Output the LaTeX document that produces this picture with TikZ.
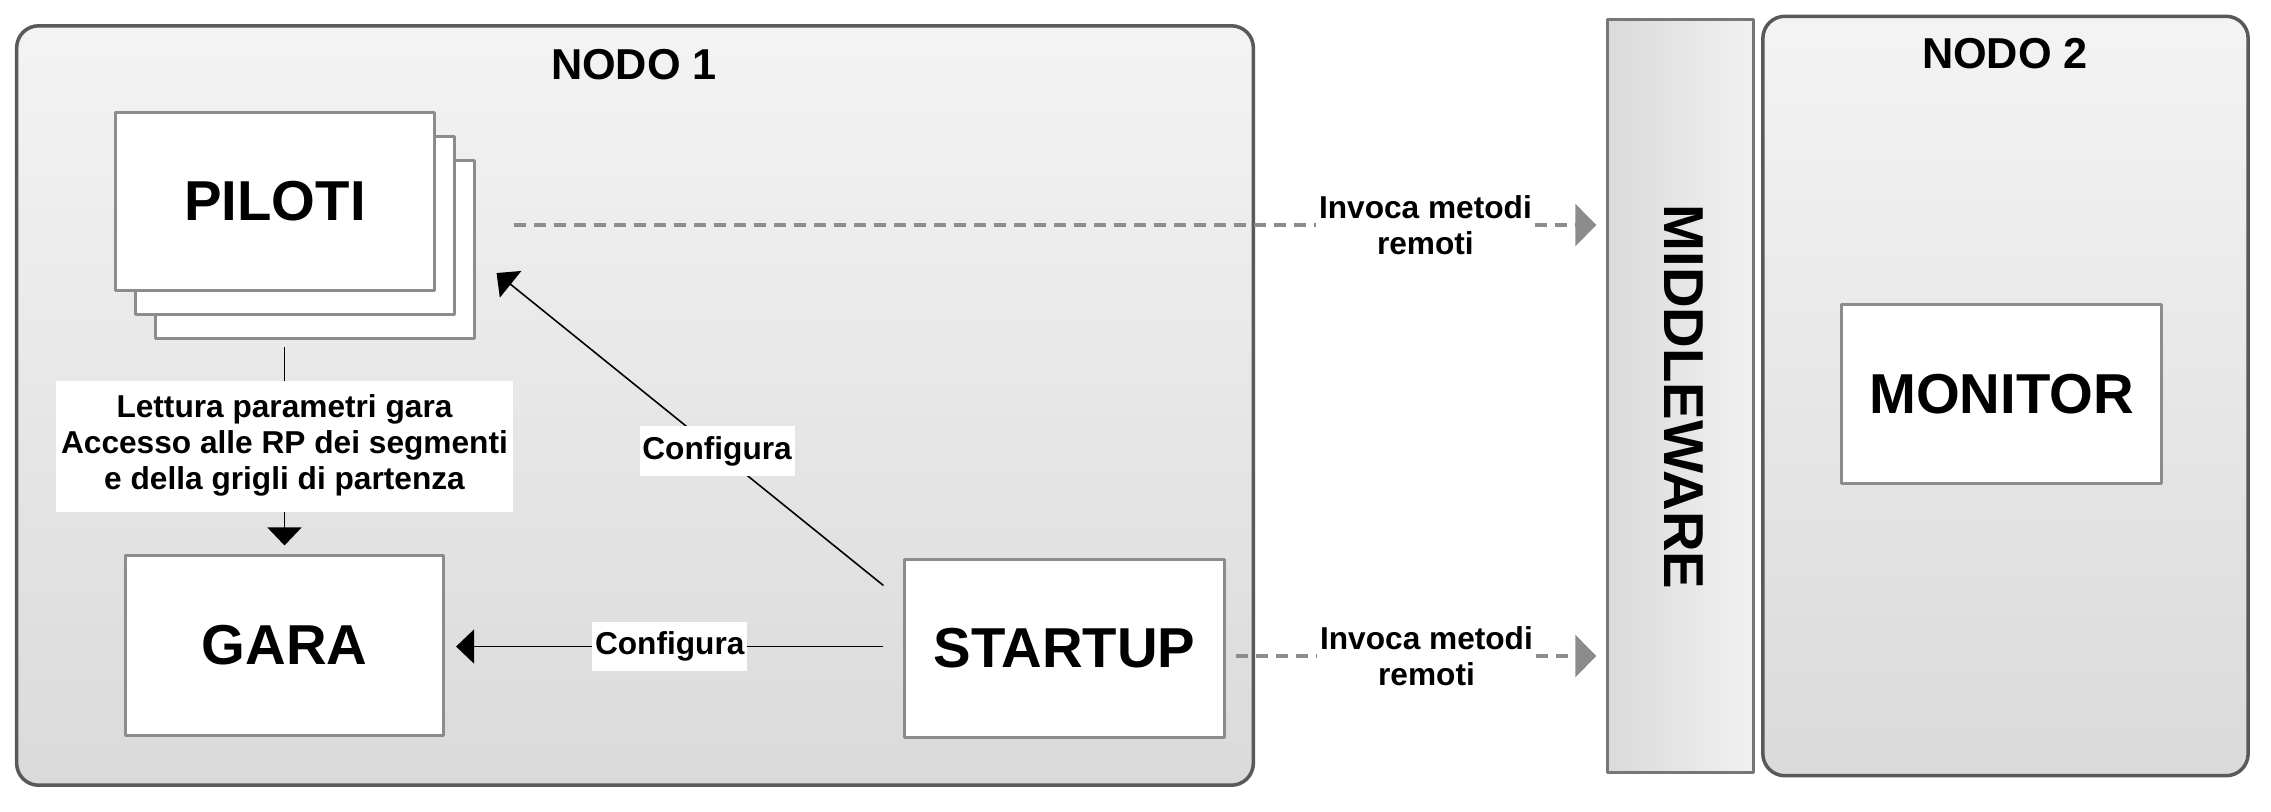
\documentclass[tikz,border=0pt]{standalone}
\usepackage{fontspec}
\setmainfont{Liberation Sans}
\usetikzlibrary{arrows.meta,positioning,calc}

\begin{document}
\begin{tikzpicture}[x=0.01cm,y=-0.01cm,line join=round,
	nodo/.style={draw=gray!70!black,line width=1pt,rounded corners=0.22cm,top color=gray!9,bottom color=gray!29},
	titolo/.style={font=\fontsize{12.3}{14}\selectfont\bfseries},
	blocco/.style={draw=gray!90,line width=0.85pt,fill=white,minimum width=3.18cm,minimum height=1.78cm,font=\fontsize{16}{19}\selectfont\bfseries},
	etich/.style={fill=white,inner xsep=0.8pt,inner ysep=1pt,align=center,font=\fontsize{9}{10.3}\selectfont\bfseries},
	freccia/.style={line width=0.45pt,-{Triangle[width=0.34cm,length=0.18cm]}},
	remota/.style={draw=gray!90,line width=1.4pt,dash pattern=on 0.12cm off 0.08cm,-{Triangle[width=0.41cm,length=0.21cm]}}]
	\useasboundingbox (0,0) rectangle (2271,811);
	% contenitori
	\node[nodo,minimum width=12.36cm,minimum height=7.59cm] (nodo1) at (635,405.5) {};
	\node[titolo] (titolo1) at (634,65) {NODO 1};
	\node[nodo,minimum width=4.85cm,minimum height=7.59cm] (nodo2) at (2005.5,396) {};
	\node[titolo] (titolo2) at (2005,54) {NODO 2};
	\node[draw=gray!93!black,line width=0.85pt,left color=gray!29,right color=gray!11,minimum width=1.45cm,minimum height=7.52cm] (middleware) at (1680.5,396) {};
	\node[rotate=-90,font=\fontsize{16}{19}\selectfont\bfseries] (mwtesto) at ([shift={(3,1)}]middleware.center) {MIDDLEWARE};
	% blocchi
	\node[blocco] (piloti3) at (315,249.5) {};
	\node[blocco] (piloti2) at ([shift={(-20,-24)}]piloti3.center) {};
	\node[blocco] (piloti) at ([shift={(-20,-24)}]piloti2.center) {PILOTI};
	\node[blocco,minimum height=1.79cm] (gara) at (284.5,645.5) {GARA};
	\node[blocco,minimum width=3.19cm,minimum height=1.77cm] (startup) at (1064.5,648.5) {STARTUP};
	\node[blocco,minimum width=3.19cm] (monitor) at (2001.5,394) {MONITOR};
	% collegamenti
	\draw[freccia] ($(piloti3.south -| gara.north)+(0,7)$) -- node[etich,minimum width=4.56cm,minimum height=1.31cm] (lettura) {\raisebox{2pt}{\begin{tabular}{@{}c@{}}Lettura parametri gara\\Accesso alle RP dei segmenti\\e della grigli di partenza\end{tabular}}} ($(gara.north)+(0,-9)$);
	\draw[freccia] ($(startup.west)+(-20,-2)$) -- node[etich,minimum height=0.49cm] (conf1) {Configura} ($(gara.east |- startup.west)+(11,-2)$);
	\draw[freccia] ($(startup.north west)+(-20,27)$) -- node[etich,pos=0.43,minimum height=0.5cm] (conf2) {Configura} ($(piloti3.east)+(21,23.5)$);
	\coordinate (inv1) at (514,225);
	\coordinate (inv2) at ($(startup.east)+(10,7.5)$);
	\draw[remota] (inv1) -- node[etich,pos=0.842,inner xsep=1pt] (rem1) {Invoca metodi\\remoti} ($(inv1 -| middleware.west)+(-10,0)$);
	\draw[remota] (inv2) -- node[etich,pos=0.529,inner xsep=1pt] (rem2) {Invoca metodi\\remoti} ($(inv2 -| middleware.west)+(-10,0)$);
\end{tikzpicture}
\end{document}
